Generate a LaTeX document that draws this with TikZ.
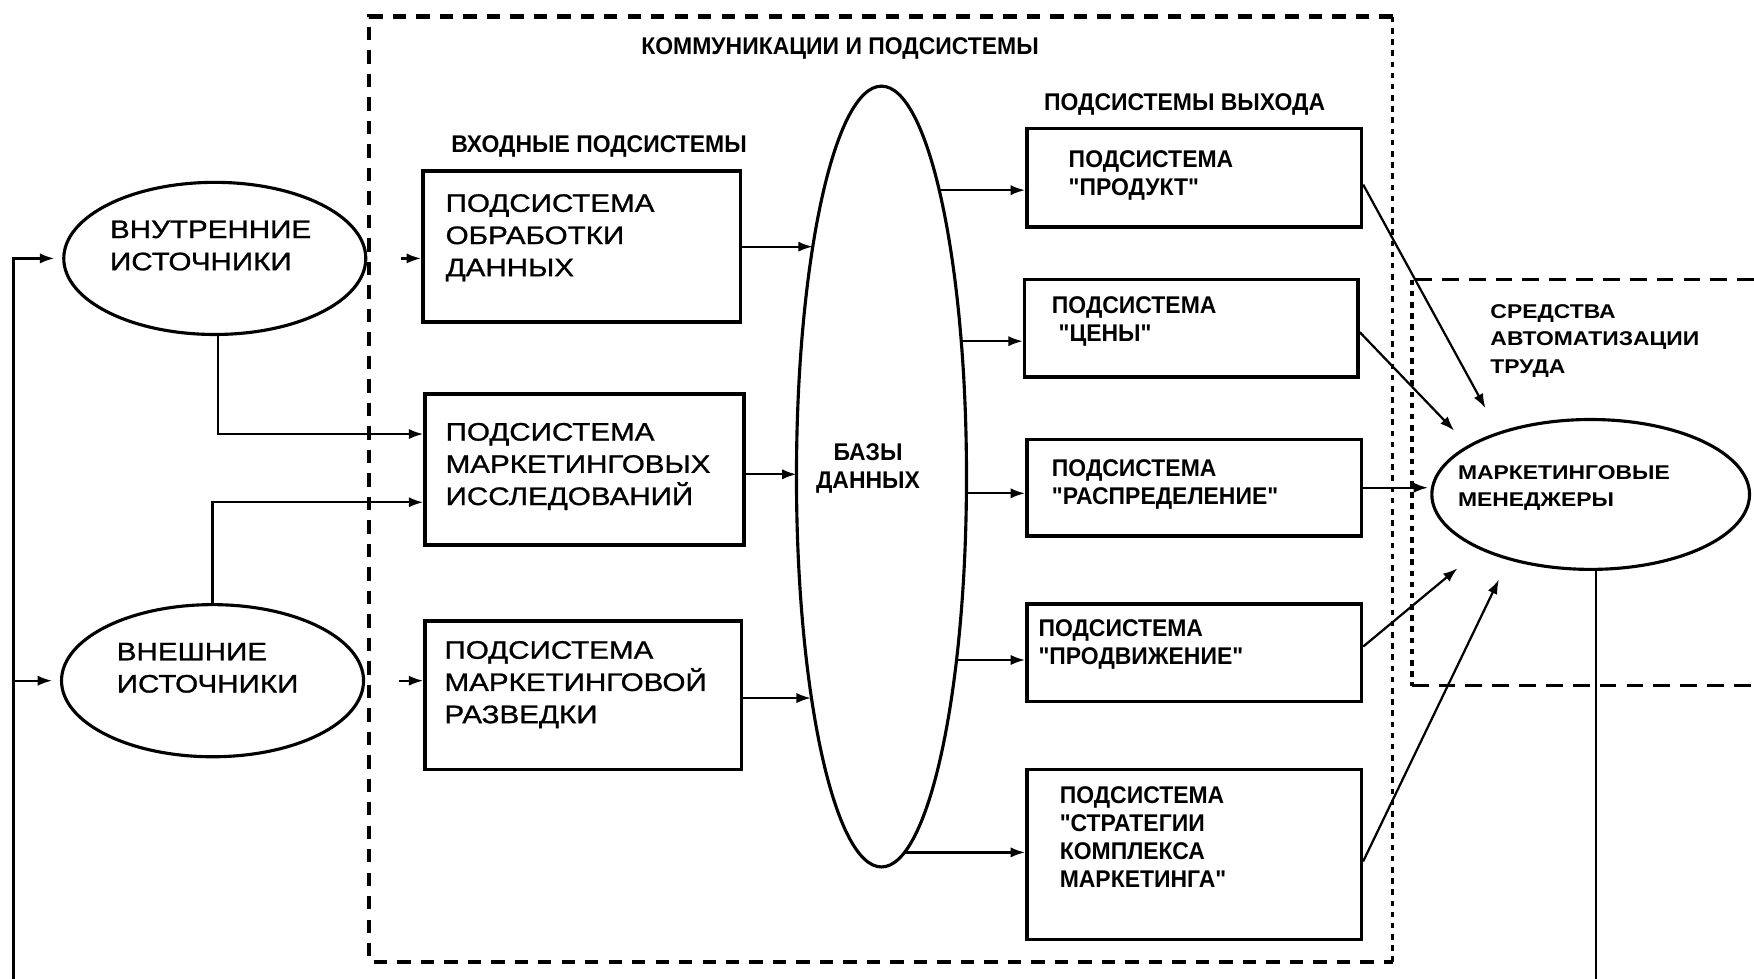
\documentclass[tikz,border=0pt]{standalone}
\usepackage{fontspec}
\setmainfont{Liberation Sans}
\newfontfamily\regf[FakeStretch=1.17,FakeBold=1]{Liberation Sans}
\newfontfamily\nbf[FakeStretch=0.95]{Liberation Sans}
\newfontfamily\wbf[FakeStretch=1.15]{Liberation Sans}
\usetikzlibrary{arrows.meta,calc,shapes.geometric}
\tikzset{
  inbox/.style={draw, rectangle, line width=1.6pt, inner sep=0pt, fill=white},
  outbox/.style={draw, rectangle, line width=1.6pt, inner sep=0pt, fill=white},
  srcell/.style={draw, ellipse, line width=1.4pt, inner sep=0pt, fill=white,
    minimum width=135pt, minimum height=68pt},
  maintxt/.style={anchor=west, align=left, inner sep=0pt, yshift=-1.5pt,
    font=\regf\fontsize{11.3}{14.4}\selectfont},
  nlab/.style={anchor=west, align=left, inner sep=0pt, yshift=-1.5pt,
    font=\nbf\bfseries\fontsize{10.8}{12.5}\selectfont},
  wlab/.style={anchor=west, align=left, inner sep=0pt, yshift=-1.4pt,
    font=\wbf\bfseries\fontsize{8.9}{12.3}\selectfont},
  conn/.style={line width=1pt},
  arr/.style={line width=1pt, -{Latex[length=6.5pt,width=4.6pt]}},
  bigdash/.style={line width=2.1pt, dash pattern=on 6pt off 4.5pt},
  finedash/.style={line width=1.6pt, dash pattern=on 2.5pt off 2.5pt},
  middash/.style={line width=1.3pt, dash pattern=on 7.5pt off 4.5pt}
}
\begin{document}
\begin{tikzpicture}[x=0.5pt,y=-0.5pt]
\useasboundingbox (0,0) rectangle (1568,875);

% dashed frames
\draw[bigdash] (1245,15) -- (330,15) -- (330,860) -- (1245,860);
\draw[finedash] (1245,15) -- (1245,860);
\draw[middash] (1568,250) -- (1262,250);
\draw[middash] (1262,613) -- (1568,613);
\draw[finedash] (1262,250) -- (1262,613);

% labels
\node[nlab, anchor=center] (title) at (751,40) {КОММУНИКАЦИИ И ПОДСИСТЕМЫ};
\node[nlab] (inlab) at (403,128) {ВХОДНЫЕ ПОДСИСТЕМЫ};
\node[nlab] (outlab) at (933,90) {ПОДСИСТЕМЫ ВЫХОДА};
\node[wlab] (autolab) at (1332,302) {СРЕДСТВА\\АВТОМАТИЗАЦИИ\\ТРУДА};

% sources
\node[srcell] (int) at (192,231) {};
\node[srcell] (ext) at (190,608.5) {};
\node[maintxt, yshift=0.5pt] (intT) at (98,217.5) {ВНУТРЕННИЕ\\ИСТОЧНИКИ};
\node[maintxt, yshift=0.5pt] (extT) at (104,595) {ВНЕШНИЕ\\ИСТОЧНИКИ};

% input subsystems
\node[inbox, minimum width=142pt, minimum height=67.5pt] (b1) at (520,220.5) {};
\node[inbox, minimum width=142.5pt, minimum height=67.5pt] (b2) at (522.5,419.5) {};
\node[inbox, minimum width=141.5pt, minimum height=66.5pt] (b3) at (521.5,621.5) {};
\node[maintxt] (b1T) at (398,209.5) {ПОДСИСТЕМА\\ОБРАБОТКИ\\ДАННЫХ};
\node[maintxt] (b2T) at (398,414) {ПОДСИСТЕМА\\МАРКЕТИНГОВЫХ\\ИССЛЕДОВАНИЙ};
\node[maintxt] (b3T) at (397,609) {ПОДСИСТЕМА\\МАРКЕТИНГОВОЙ\\РАЗВЕДКИ};

% databases
\node[draw, ellipse, line width=1.4pt, inner sep=0pt, minimum width=76pt, minimum height=349pt] (db) at (788,426) {};
\node[nlab, align=center, anchor=center] (dbT) at (776,416) {БАЗЫ\\ДАННЫХ};

% output subsystems
\node[outbox, minimum width=149.5pt, minimum height=44pt] (o1) at (1067.5,159) {};
\node[outbox, minimum width=149pt, minimum height=43.5pt] (o2) at (1065,293.5) {};
\node[outbox, minimum width=149.5pt, minimum height=43pt] (o3) at (1067.5,436) {};
\node[outbox, minimum width=149.5pt, minimum height=43.5pt] (o4) at (1067.5,583.5) {};
\node[outbox, minimum width=149.5pt, minimum height=76pt] (o5) at (1067.5,764) {};
\node[nlab] (o1T) at (955,153.5) {ПОДСИСТЕМА\\"ПРОДУКТ"};
\node[nlab] (o2T) at (940,284.5) {ПОДСИСТЕМА\\\hspace*{3pt}"ЦЕНЫ"};
\node[nlab] (o3T) at (940,430.5) {ПОДСИСТЕМА\\"РАСПРЕДЕЛЕНИЕ"};
\node[nlab] (o4T) at (928,573) {ПОДСИСТЕМА\\"ПРОДВИЖЕНИЕ"};
\node[nlab] (o5T) at (947,745.5) {ПОДСИСТЕМА\\"СТРАТЕГИИ\\КОМПЛЕКСА\\МАРКЕТИНГА"};

% managers
\node[draw, ellipse, line width=1.4pt, inner sep=0pt, fill=white, minimum width=142pt, minimum height=67pt] (mgr) at (1422,442) {};
\node[wlab] (mgrT) at (1303,433.5) {МАРКЕТИНГОВЫЕ\\МЕНЕДЖЕРЫ};

% feedback lines
\coordinate (fbB) at (12,875);
\coordinate (mB) at (1427,875);
\draw[arr, shorten >=3.5pt] (fbB) |- (int.west);
\draw[arr, shorten >=3.5pt] (fbB |- ext.west) -- (ext.west);
\draw[conn] (mgr.south -| mB) -- (mB);

% sources -> inputs
\draw[arr, shorten <=15pt] (int.east) -- (int.east -| b1.west);
\draw[arr, shorten <=15pt] (ext.east) -- (ext.east -| b3.west);
\draw[arr] ($(int.south)+(3,0)$) |- ($(b2.west)+(0,-31.5)$);
\draw[arr] (ext.north) |- ($(b2.west)+(0,29.5)$);

% inputs -> databases
\coordinate (d1) at (726.6,220.5);
\coordinate (d2) at (712.1,424);
\coordinate (d3) at (725,624);
\draw[arr] (b1.east) -- (d1);
\draw[arr] (b2.east |- d2) -- (d2);
\draw[arr] (b3.east |- d3) -- (d3);

% databases -> outputs
\coordinate (e1) at (839.7,170);
\coordinate (e2) at (859.3,305);
\coordinate (e3) at (863.9,441);
\coordinate (e4) at (855,590);
\coordinate (e5) at (808.5,762);
\draw[arr] (e1) -- (e1 -| o1.west);
\draw[arr] (e2) -- (e2 -| o2.west);
\draw[arr] (e3) -- (e3 -| o3.west);
\draw[arr] (e4) -- (e4 -| o4.west);
\draw[arr] (e5) -- (e5 -| o5.west);

% outputs -> managers
\coordinate (m1) at (1328,365);
\coordinate (m2) at (1300,385);
\coordinate (m4) at (1303,508);
\coordinate (m5) at (1340,518);
\draw[arr] ($(o1.east)+(0,6)$) -- (m1);
\draw[arr] ($(o2.east)+(0,3.5)$) -- (m2);
\draw[arr, shorten >=1pt] (o3.east) -- (o3.east -| mgr.west);
\draw[arr] ($(o4.east)+(0,-5.5)$) -- (m4);
\draw[arr] ($(o5.east)+(0,6)$) -- (m5);
\end{tikzpicture}
\end{document}
